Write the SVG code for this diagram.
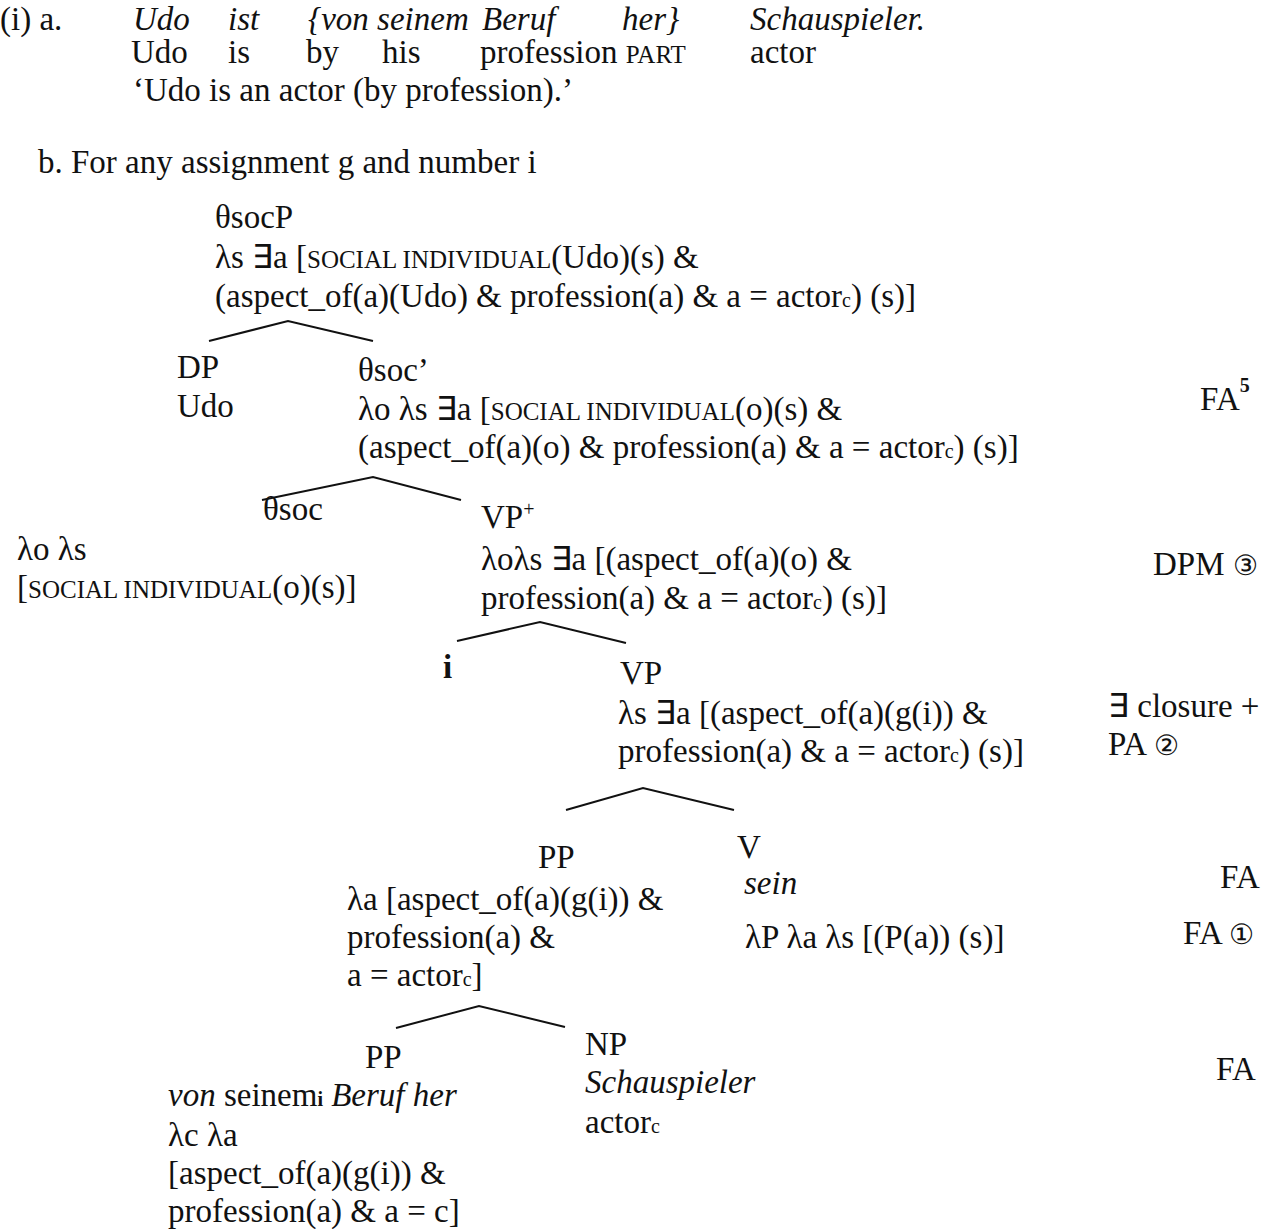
<svg xmlns="http://www.w3.org/2000/svg" width="1280" height="1229" viewBox="0 0 1280 1229">
<style>
text{font-family:"Liberation Serif","Times New Roman",serif;font-size:33px;fill:#111}
.it{font-style:italic}
.sc{font-size:25px}
.sub{font-size:20px}
.b{font-weight:bold}
.circ{font-family:"DejaVu Sans",sans-serif;font-size:28px;font-weight:200}
.br{stroke:#111;stroke-width:2;fill:none}
</style>
<rect width="1280" height="1229" fill="#fff"/>
<g id="example-a">
<text x="0" y="30">(i) a.</text>
<text x="133" y="30" class="it">Udo</text>
<text x="228" y="30" class="it">ist</text>
<text x="308" y="30" class="it">{von seinem</text>
<text x="482" y="30" class="it">Beruf</text>
<text x="622" y="30" class="it">her}</text>
<text x="750" y="30" class="it">Schauspieler.</text>
<text x="131" y="63">Udo</text>
<text x="228" y="63">is</text>
<text x="306" y="63">by</text>
<text x="382" y="63">his</text>
<text x="480" y="63">profession <tspan class="sc">PART</tspan></text>
<text x="750" y="63">actor</text>
<text x="133" y="101">‘Udo is an actor (by profession).’</text>
</g>
<g id="example-b">
<text x="38" y="173">b. For any assignment g and number i</text>
</g>
<g id="connectors">
<polyline class="br" points="209,341 288,321 373,341"/>
<polyline class="br" points="262,500 373,477 461,500"/>
<polyline class="br" points="457,641 540,622 626,643"/>
<polyline class="br" points="566,810 643,788 734,810"/>
<polyline class="br" points="396,1028 479,1006 565,1027"/>
</g>
<g id="node-thetasocP">
<text x="215" y="228">θsocP</text>
<text x="215" y="268">λs ∃a [<tspan class="sc">SOCIAL INDIVIDUAL</tspan>(Udo)(s) &amp;</text>
<text x="215" y="307">(aspect_of(a)(Udo) &amp; profession(a) &amp; a = actor<tspan class="sub">c</tspan>) (s)]</text>
</g>
<g id="node-DP">
<text x="177" y="378">DP</text>
<text x="177" y="417">Udo</text>
</g>
<g id="node-thetasoc-bar">
<text x="358" y="381">θsoc’</text>
<text x="358" y="420">λo λs ∃a [<tspan class="sc">SOCIAL INDIVIDUAL</tspan>(o)(s) &amp;</text>
<text x="358" y="458">(aspect_of(a)(o) &amp; profession(a) &amp; a = actor<tspan class="sub">c</tspan>) (s)]</text>
</g>
<g id="node-thetasoc">
<text x="263" y="520">θsoc</text>
<text x="17" y="560">λo λs</text>
<text x="17" y="598">[<tspan class="sc">SOCIAL INDIVIDUAL</tspan>(o)(s)]</text>
</g>
<g id="node-VPplus">
<text x="481" y="528">VP<tspan class="sub" dy="-12">+</tspan></text>
<text x="481" y="570">λoλs ∃a [(aspect_of(a)(o) &amp;</text>
<text x="481" y="609">profession(a) &amp; a = actor<tspan class="sub">c</tspan>) (s)]</text>
</g>
<g id="node-i">
<text x="443" y="678" class="b">i</text>
</g>
<g id="node-VP">
<text x="620" y="684">VP</text>
<text x="618" y="724">λs ∃a [(aspect_of(a)(g(i)) &amp;</text>
<text x="618" y="762">profession(a) &amp; a = actor<tspan class="sub">c</tspan>) (s)]</text>
</g>
<g id="node-PP1">
<text x="538" y="868">PP</text>
<text x="347" y="910">λa [aspect_of(a)(g(i)) &amp;</text>
<text x="347" y="948">profession(a) &amp;</text>
<text x="347" y="986">a = actor<tspan class="sub">c</tspan>]</text>
</g>
<g id="node-V">
<text x="737" y="858">V</text>
<text x="744" y="894" class="it">sein</text>
<text x="745" y="948">λP λa λs [(P(a)) (s)]</text>
</g>
<g id="node-PP2">
<text x="365" y="1068">PP</text>
<text x="168" y="1106"><tspan class="it">von</tspan> seinem<tspan class="sub b">i</tspan> <tspan class="it">Beruf her</tspan></text>
<text x="168" y="1146">λc λa</text>
<text x="168" y="1184">[aspect_of(a)(g(i)) &amp;</text>
<text x="168" y="1222">profession(a) &amp; a = c]</text>
</g>
<g id="node-NP">
<text x="585" y="1055">NP</text>
<text x="585" y="1093" class="it">Schauspieler</text>
<text x="585" y="1133">actor<tspan class="sub">c</tspan></text>
</g>
<g id="rules">
<text x="1200" y="410">FA<tspan class="sub b" dy="-18">5</tspan></text>
<text x="1153" y="575">DPM <tspan class="circ">③</tspan></text>
<text x="1108" y="717">∃ closure +</text>
<text x="1108" y="755">PA <tspan class="circ">②</tspan></text>
<text x="1220" y="888">FA</text>
<text x="1183" y="944">FA <tspan class="circ">①</tspan></text>
<text x="1216" y="1080">FA</text>
</g>
</svg>
